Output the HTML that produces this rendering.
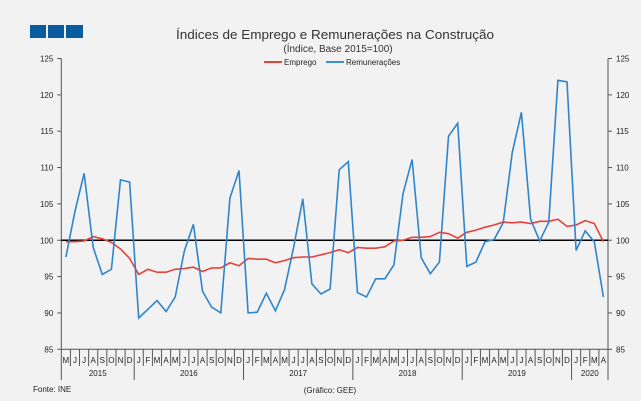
<!DOCTYPE html>
<html><head><meta charset="utf-8"><style>
body{margin:0;background:#f2f2f2;}
svg{display:block;font-family:"Liberation Sans",sans-serif;}
</style></head><body>
<svg id="c" width="641" height="401" xmlns="http://www.w3.org/2000/svg">
<rect width="641" height="401" fill="#f2f2f2"/>
<rect x="30" y="25" width="16" height="13" fill="#0a5ca0"/>
<rect x="48" y="25" width="16" height="13" fill="#0a5ca0"/>
<rect x="66" y="25" width="17" height="13" fill="#0a5ca0"/>
<text x="335" y="39" font-size="13" text-anchor="middle" fill="#333" textLength="318" lengthAdjust="spacingAndGlyphs">Índices de Emprego  e Remunerações na Construção</text>
<text x="338" y="52" font-size="10" text-anchor="middle" fill="#333">(Índice, Base 2015=100)</text>
<line x1="264" y1="62" x2="282" y2="62" stroke="#e8413c" stroke-width="2"/>
<text x="284" y="65" font-size="8" fill="#222">Emprego</text>
<line x1="326" y1="62" x2="344" y2="62" stroke="#3a8fd0" stroke-width="2"/>
<text x="346" y="65" font-size="8" fill="#222">Remunerações</text>
<g id="g"></g>
<text x="33" y="392" font-size="8" fill="#222">Fonte: INE</text>
<text x="330" y="393" font-size="8" fill="#222" text-anchor="middle">(Gráfico:  GEE)</text>
</svg>
<script>
var g=document.getElementById('g'),s='';
var L=61.3,R=608,T=58.5,B=349.3,n=60,dx=(R-L)/n;
function Y(v){return B-(v-85)*(B-T)/40;}
s+='<line x1="'+L+'" y1="'+T+'" x2="'+L+'" y2="'+B+'" stroke="#555"/>';
s+='<line x1="'+R+'" y1="'+T+'" x2="'+R+'" y2="'+B+'" stroke="#555"/>';
s+='<line x1="'+L+'" y1="'+B+'" x2="'+R+'" y2="'+B+'" stroke="#555"/>';
for(var v=85;v<=125;v+=5){var y=Y(v);
s+='<line x1="'+(L-4)+'" y1="'+y+'" x2="'+L+'" y2="'+y+'" stroke="#555"/>';
s+='<line x1="'+R+'" y1="'+y+'" x2="'+(R+4)+'" y2="'+y+'" stroke="#555"/>';
s+='<text x="'+(L-8)+'" y="'+(y+3)+'" font-size="8" text-anchor="end" fill="#222">'+v+'</text>';
s+='<text x="'+(R+8)+'" y="'+(y+3)+'" font-size="8" fill="#222">'+v+'</text>';}
var mo="MJJASONDJFMAMJJASONDJFMAMJJASONDJFMAMJJASONDJFMAMJJASONDJFMA";
var yb=[0,8,20,32,44,56,60];
for(var k=0;k<=n;k++){var x=L+k*dx,big=yb.indexOf(k)>=0;
s+='<line x1="'+x+'" y1="'+B+'" x2="'+x+'" y2="'+(big?380:366)+'" stroke="#555"/>';}
for(var k=0;k<n;k++){s+='<text x="'+(L+(k+.5)*dx)+'" y="'+363+'" font-size="8" text-anchor="middle" fill="#222">'+mo[k]+'</text>';}
var yrs=["2015","2016","2017","2018","2019","2020"];
for(var i=0;i<6;i++){s+='<text x="'+(L+(yb[i]+yb[i+1])/2*dx)+'" y="376" font-size="8" text-anchor="middle" fill="#222">'+yrs[i]+'</text>';}
s+='<line x1="'+L+'" y1="'+Y(100)+'" x2="'+R+'" y2="'+Y(100)+'" stroke="#000" stroke-width="1.5"/>';
var rem=[97.7,104,109.2,99,95.3,96,108.3,108,89.3,90.5,91.7,90.2,92.2,98.5,102.2,93,90.8,90,105.8,109.6,90,90.1,92.7,90.3,93.2,99,105.7,94,92.6,93.3,109.7,110.8,92.8,92.2,94.7,94.7,96.6,106.4,111.1,97.6,95.4,97,114.3,116.1,96.4,97,99.8,100.1,102.4,112.1,117.6,102.9,99.9,102.5,122,121.8,98.6,101.3,99.8,92.2];
var emp=[99.8,99.8,99.9,100.5,100.2,99.7,98.8,97.5,95.3,96,95.6,95.6,96,96.1,96.3,95.7,96.2,96.2,96.9,96.5,97.5,97.4,97.4,96.9,97.2,97.6,97.7,97.7,98,98.3,98.7,98.3,99,98.9,98.9,99.1,99.9,100,100.4,100.4,100.5,101.1,100.9,100.3,101.1,101.4,101.8,102.1,102.5,102.4,102.5,102.3,102.6,102.6,102.9,101.9,102.1,102.7,102.3,99.8];
function pl(a,c){var p=a.map(function(v,i){return (L+(i+.5)*dx).toFixed(1)+','+Y(v).toFixed(1)}).join(' ');
return '<polyline points="'+p+'" fill="none" stroke="'+c+'" stroke-width="1.6"/>';}
s+=pl(emp,'#e8413c')+pl(rem,'#2f85cc');
g.innerHTML=s;
</script>
</body></html>
